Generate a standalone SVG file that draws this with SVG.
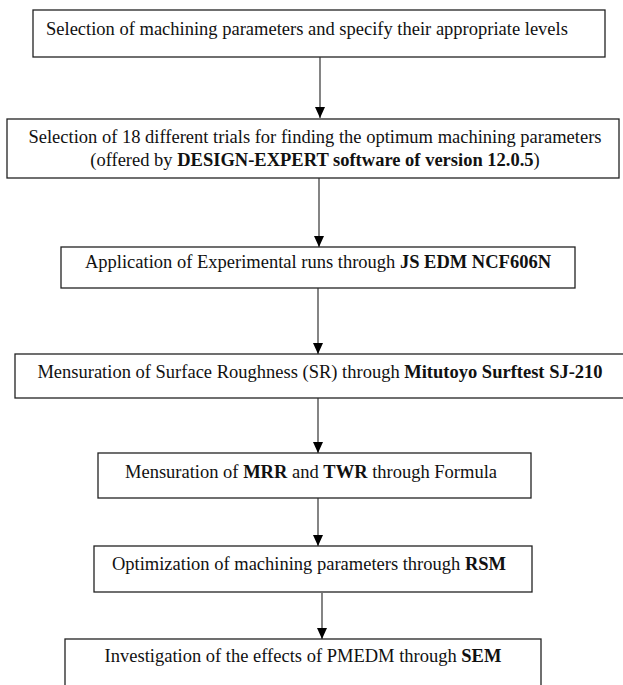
<svg xmlns="http://www.w3.org/2000/svg" width="623" height="685" viewBox="0 0 623 685">
<style>
.box{fill:#fff;stroke:#222;stroke-width:1.3}
.t{font-family:"Liberation Serif","Times New Roman",Times,serif;font-size:18.5px;fill:#111}
.c{text-anchor:middle}
.b{font-weight:bold}
.con line{stroke:#333;stroke-width:1.2}
</style>
<defs>
<marker id="ah" markerWidth="12" markerHeight="10" refX="11" refY="5" orient="auto" markerUnits="userSpaceOnUse" viewBox="0 0 12 10">
<path d="M0,0 L11,5 L0,10 Z" fill="#000"/>
</marker>
</defs>
<rect width="623" height="685" fill="#fff"/>
<g id="n1"><rect class="box" x="33" y="10" width="572" height="47"/>
<text class="t" x="46" y="35">Selection of machining parameters and specify their appropriate levels</text></g>
<g id="n2"><rect class="box" x="7" y="119" width="612" height="59"/>
<text class="t c" x="315" y="143">Selection of 18 different trials for finding the optimum machining parameters</text>
<text class="t c" x="315" y="166">(offered by <tspan class="b">DESIGN-EXPERT software of version 12.0.5</tspan>)</text></g>
<g id="n3"><rect class="box" x="61" y="247" width="514" height="41"/>
<text class="t c" x="318" y="268">Application of Experimental runs through <tspan class="b">JS EDM NCF606N</tspan></text></g>
<g id="n4"><rect class="box" x="15" y="354" width="615" height="44"/>
<text class="t c" x="320" y="378">Mensuration of Surface Roughness (SR) through <tspan class="b">Mitutoyo Surftest SJ-210</tspan></text></g>
<g id="n5"><rect class="box" x="98" y="453" width="433" height="45"/>
<text class="t c" x="311" y="478">Mensuration of <tspan class="b">MRR</tspan> and <tspan class="b">TWR</tspan> through Formula</text></g>
<g id="n6"><rect class="box" x="94" y="546" width="438" height="46"/>
<text class="t c" x="309" y="570">Optimization of machining parameters through <tspan class="b">RSM</tspan></text></g>
<g id="n7"><rect class="box" x="65" y="639" width="476" height="60"/>
<text class="t c" x="303" y="662">Investigation of the effects of PMEDM through <tspan class="b">SEM</tspan></text></g>
<g id="connectors" class="con">
<line x1="320" y1="57" x2="320" y2="118" marker-end="url(#ah)"/>
<line x1="319" y1="178" x2="319" y2="247" marker-end="url(#ah)"/>
<line x1="318" y1="288" x2="318" y2="354" marker-end="url(#ah)"/>
<line x1="318" y1="398" x2="318" y2="453" marker-end="url(#ah)"/>
<line x1="318" y1="498" x2="318" y2="546" marker-end="url(#ah)"/>
<line x1="322" y1="593" x2="322" y2="639" marker-end="url(#ah)"/>
</g>
</svg>
